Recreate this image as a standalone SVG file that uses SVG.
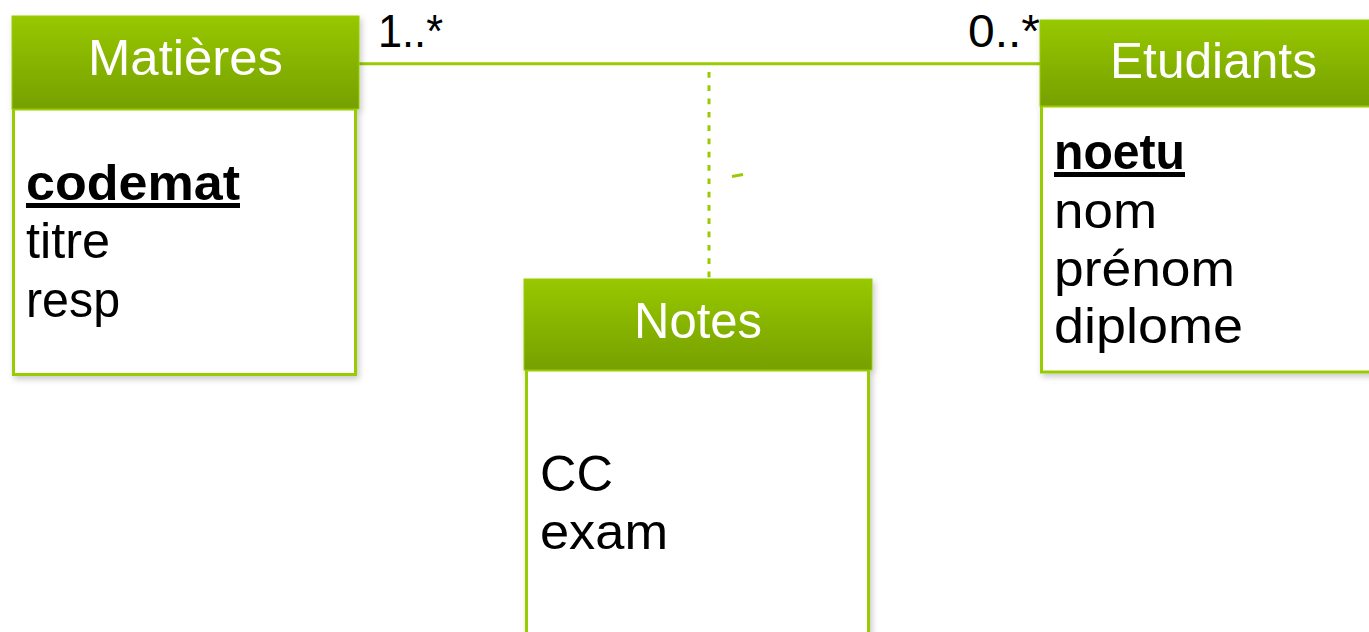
<svg xmlns="http://www.w3.org/2000/svg" width="1369" height="632" viewBox="0 0 1369 632">
  <defs>
    <linearGradient id="hdr" x1="0" y1="0" x2="0" y2="1">
      <stop offset="0" stop-color="#97C800"/>
      <stop offset="1" stop-color="#76A000"/>
    </linearGradient>
    <filter id="sh" x="-5%" y="-5%" width="112%" height="112%">
      <feDropShadow dx="2" dy="3" stdDeviation="3" flood-color="#000" flood-opacity="0.22"/>
    </filter>
  </defs>
  <style>
    .hdr { fill: url(#hdr); stroke: #9ACD00; stroke-width: 1; }
    .body { fill: #ffffff; stroke: #99CC00; stroke-width: 3; }
    .title { font-family: "Liberation Sans", Arial, sans-serif; font-size: 50px; fill: #ffffff; text-anchor: middle; }
    .attr { font-family: "Liberation Sans", Arial, sans-serif; font-size: 50px; fill: #000000; }
    .key { font-weight: bold; text-decoration: underline; }
    .mult { font-family: "Liberation Sans", Arial, sans-serif; font-size: 46px; fill: #000000; }
    .assoc { stroke: #99CC00; stroke-width: 3; fill: none; }
    .dash { stroke: #99CC00; stroke-width: 3; fill: none; stroke-dasharray: 5.7 7.6; }
  </style>
  <rect width="1369" height="632" fill="#ffffff"/>

  <g id="connectors">
    <line class="assoc" x1="359" y1="63.7" x2="1040" y2="63.7"/>
    <line class="dash" x1="709" y1="72" x2="709" y2="279"/>
    <line class="assoc" x1="732" y1="176.5" x2="743" y2="174.5" stroke-width="2.5"/>
    <text class="mult" x="378" y="47" textLength="65" lengthAdjust="spacingAndGlyphs">1..*</text>
    <text class="mult" x="968" y="47" textLength="72" lengthAdjust="spacingAndGlyphs">0..*</text>
  </g>

  <g id="matieres" filter="url(#sh)">
    <rect class="body" x="13.5" y="109" width="342" height="265.5"/>
    <rect class="hdr" x="12" y="16" width="347" height="93"/>
    <text class="title" x="185.5" y="75" textLength="195" lengthAdjust="spacingAndGlyphs">Matières</text>
    <text class="attr key" x="26" y="200" textLength="214" lengthAdjust="spacingAndGlyphs">codemat</text>
    <text class="attr" x="26" y="258" textLength="84" lengthAdjust="spacingAndGlyphs">titre</text>
    <text class="attr" x="26" y="317" textLength="94" lengthAdjust="spacingAndGlyphs">resp</text>
  </g>

  <g id="etudiants" filter="url(#sh)">
    <rect class="body" x="1041.5" y="106" width="345" height="266"/>
    <rect class="hdr" x="1040" y="20" width="345" height="86"/>
    <text class="title" x="1213.5" y="78" textLength="207" lengthAdjust="spacingAndGlyphs">Etudiants</text>
    <text class="attr key" x="1054" y="169" textLength="131" lengthAdjust="spacingAndGlyphs">noetu</text>
    <text class="attr" x="1054" y="228" textLength="103" lengthAdjust="spacingAndGlyphs">nom</text>
    <text class="attr" x="1054" y="286" textLength="181" lengthAdjust="spacingAndGlyphs">prénom</text>
    <text class="attr" x="1054" y="343" textLength="189" lengthAdjust="spacingAndGlyphs">diplome</text>
  </g>

  <g id="notes" filter="url(#sh)">
    <rect class="body" x="526.5" y="370" width="342" height="280"/>
    <rect class="hdr" x="524" y="279" width="348" height="91"/>
    <text class="title" x="698" y="338" textLength="128" lengthAdjust="spacingAndGlyphs">Notes</text>
    <text class="attr" x="540" y="491" textLength="73" lengthAdjust="spacingAndGlyphs">CC</text>
    <text class="attr" x="540" y="549" textLength="128" lengthAdjust="spacingAndGlyphs">exam</text>
  </g>
</svg>
